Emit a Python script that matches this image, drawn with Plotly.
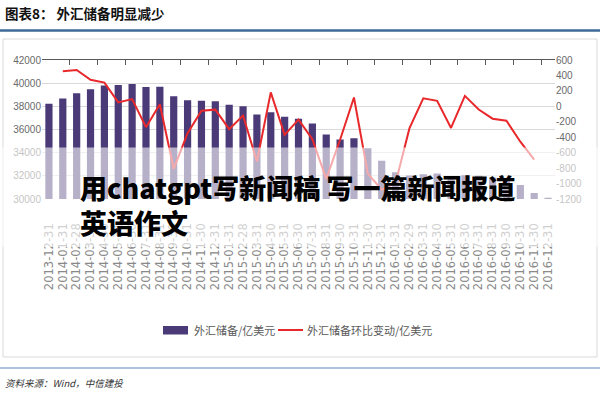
import plotly.graph_objects as go

# ---- data ----
dates = [
    "2013-12-31",
    "2014-01-31", "2014-02-28", "2014-03-31", "2014-04-30", "2014-05-31", "2014-06-30",
    "2014-07-31", "2014-08-31", "2014-09-30", "2014-10-31", "2014-11-30", "2014-12-31",
    "2015-01-31", "2015-02-28", "2015-03-31", "2015-04-30", "2015-05-31", "2015-06-30",
    "2015-07-31", "2015-08-31", "2015-09-30", "2015-10-31", "2015-11-30", "2015-12-31",
    "2016-01-31", "2016-02-29", "2016-03-31", "2016-04-30", "2016-05-31", "2016-06-30",
    "2016-07-31", "2016-08-31", "2016-09-30", "2016-10-31", "2016-11-30", "2016-12-31",
]
reserves = [
    38213,
    38666, 39137, 39481, 39788, 39839, 39932, 39662, 39688, 38877, 38529, 38473, 38430,
    38134, 38015, 37300, 37481, 37111, 36938, 36513, 35574, 35141, 35255, 34383, 33304,
    32309, 32023, 32126, 32197, 31917, 32052, 32011, 31851, 31664, 31206, 30516, 30105,
]
mom_change = [
    None,
    453, 471, 344, 307, 51, 93, -270, 26, -811, -348, -56, -43,
    -296, -119, -715, 181, -370, -173, -425, -939, -433, 114, -872, -1079,
    -995, -286, 103, 71, -280, 135, -41, -160, -187, -458, -690, None,
]
left_ticks = [30000, 32000, 34000, 36000, 38000, 40000, 42000]
right_ticks = [-1200, -1000, -800, -600, -400, -200, 0, 200, 400, 600]

series_bar = "外汇储备/亿美元"
series_line = "外汇储备环比变动/亿美元"
title_text = "图表8： 外汇储备明显减少"
source_text = "资料来源：Wind，中信建投"
overlay_line1 = "用chatgpt写新闻稿 写一篇新闻报道"
overlay_line2 = "英语作文"

BAR_COLOR = "#4b3a78"
LINE_COLOR = "#e8282b"

# ---- layout geometry (pixels) ----
W, H = 600, 400
L, R, T, B = 42, 555, 60, 199


def px_x(px):
    return (px - L) / (R - L)


def px_y(py):
    return (B - py) / (B - T)


FONT = "Noto Sans CJK SC"
TICK_COLOR = "#6a6a6a"

fig = go.Figure()
fig.add_trace(go.Bar(
    x=dates, y=reserves, name=series_bar,
    marker=dict(color=BAR_COLOR, line=dict(width=0)),
    xaxis="x", yaxis="y", showlegend=False,
))
fig.add_trace(go.Scatter(
    x=dates, y=mom_change, name=series_line, mode="lines",
    line=dict(color=LINE_COLOR, width=2),
    xaxis="x2", yaxis="y2", showlegend=False,
))

fig.update_layout(
    width=W, height=H,
    margin=dict(l=L, r=W - R, t=T, b=H - B, pad=0, autoexpand=False),
    paper_bgcolor="white", plot_bgcolor="white",
    font=dict(family=FONT, color=TICK_COLOR, size=10),
    bargap=0.48,
    showlegend=False,
    hovermode=False,
    xaxis=dict(
        type="category", categoryorder="array", categoryarray=dates,
        range=[-0.5, len(dates) - 0.5],
        tickmode="array", tickvals=dates, ticktext=dates,
        side="bottom", showline=False, showgrid=False, ticks="",
        tickangle=-90, ticklabelstandoff=21,
        tickfont=dict(family="DejaVu Sans", size=11.5, color="#8a8a8a"),
        automargin=False, fixedrange=True,
    ),
    xaxis2=dict(
        type="category", categoryorder="array", categoryarray=dates,
        range=[-0.5, len(dates) - 0.5],
        overlaying="x", side="top", anchor="y2",
        showline=True, linecolor="#595959", linewidth=1,
        ticks="inside", ticklen=5, tickcolor="#595959", tickwidth=1,
        tickson="boundaries", showticklabels=False, showgrid=False,
        automargin=False, fixedrange=True,
    ),
    yaxis=dict(
        range=[30000, 42000], tickmode="array", tickvals=left_ticks,
        ticktext=[str(v) for v in left_ticks],
        showgrid=True, gridcolor="#d9d9d9", gridwidth=1,
        zeroline=False, showline=False, ticks="",
        tickfont=dict(family="Liberation Sans", size=10, color=TICK_COLOR),
        automargin=False, fixedrange=True,
    ),
    yaxis2=dict(
        range=[-1200, 600], tickmode="array", tickvals=right_ticks,
        ticktext=[str(v) for v in right_ticks],
        overlaying="y", side="right", anchor="x",
        showgrid=False, zeroline=False, showline=False, ticks="",
        tickfont=dict(family="Liberation Sans", size=10, color=TICK_COLOR),
        automargin=False, fixedrange=True,
    ),
)

shapes = [
    # outer light frame
    dict(type="rect", xref="paper", yref="paper",
         x0=px_x(3), x1=px_x(597), y0=px_y(357), y1=px_y(39),
         line=dict(color="#d9d9d9", width=1), fillcolor="rgba(0,0,0,0)", layer="below"),
    # title underline
    dict(type="line", xref="paper", yref="paper",
         x0=px_x(0), x1=px_x(600), y0=px_y(30.5), y1=px_y(30.5),
         line=dict(color="#3d6a99", width=2.5)),
    # source top line
    dict(type="line", xref="paper", yref="paper",
         x0=px_x(0), x1=px_x(600), y0=px_y(368), y1=px_y(368),
         line=dict(color="#8fb0d6", width=1.5)),
    # legend symbols
    dict(type="rect", xref="paper", yref="paper",
         x0=px_x(163), x1=px_x(188), y0=px_y(334.5), y1=px_y(326),
         line=dict(width=0), fillcolor=BAR_COLOR),
    dict(type="line", xref="paper", yref="paper",
         x0=px_x(278), x1=px_x(303), y0=px_y(330), y1=px_y(330),
         line=dict(color=LINE_COLOR, width=2)),
    # semi-transparent white overlay band
    dict(type="rect", xref="paper", yref="paper",
         x0=px_x(0), x1=px_x(600), y0=px_y(247), y1=px_y(147.5),
         line=dict(width=0), fillcolor="white", opacity=0.6, layer="above"),
]
fig.update_layout(shapes=shapes)

annotations = [
    dict(text="<b>" + title_text + "</b>", xref="paper", yref="paper",
         x=px_x(3), y=px_y(13), xanchor="left", yanchor="middle", showarrow=False,
         font=dict(family=FONT, size=13.5, color="#111111")),
    dict(text="<i>" + source_text + "</i>", xref="paper", yref="paper",
         x=px_x(3), y=px_y(383), xanchor="left", yanchor="middle", showarrow=False,
         font=dict(family=FONT, size=9.5, color="#333333")),
    # legend labels
    dict(text=series_bar, xref="paper", yref="paper",
         x=px_x(192), y=px_y(330), xanchor="left", yanchor="middle", showarrow=False,
         font=dict(family=FONT, size=11, color="#595959")),
    dict(text=series_line, xref="paper", yref="paper",
         x=px_x(305), y=px_y(330), xanchor="left", yanchor="middle", showarrow=False,
         font=dict(family=FONT, size=11, color="#595959")),
    # overlay headline
    dict(text=overlay_line1, xref="paper", yref="paper",
         x=px_x(78), y=px_y(187), xanchor="left", yanchor="middle", showarrow=False,
         font=dict(family=FONT, size=27, color="#000000", weight=900)),
    dict(text=overlay_line2, xref="paper", yref="paper",
         x=px_x(78), y=px_y(222), xanchor="left", yanchor="middle", showarrow=False,
         font=dict(family=FONT, size=27, color="#000000", weight=900)),
]
fig.update_layout(annotations=annotations)

# remove the browser's default page margin so the figure sits at the window origin
fig.write_html(
    "out.html",
    config={"displayModeBar": False, "staticPlot": True},
    post_script="document.body.style.margin='0';",
)
